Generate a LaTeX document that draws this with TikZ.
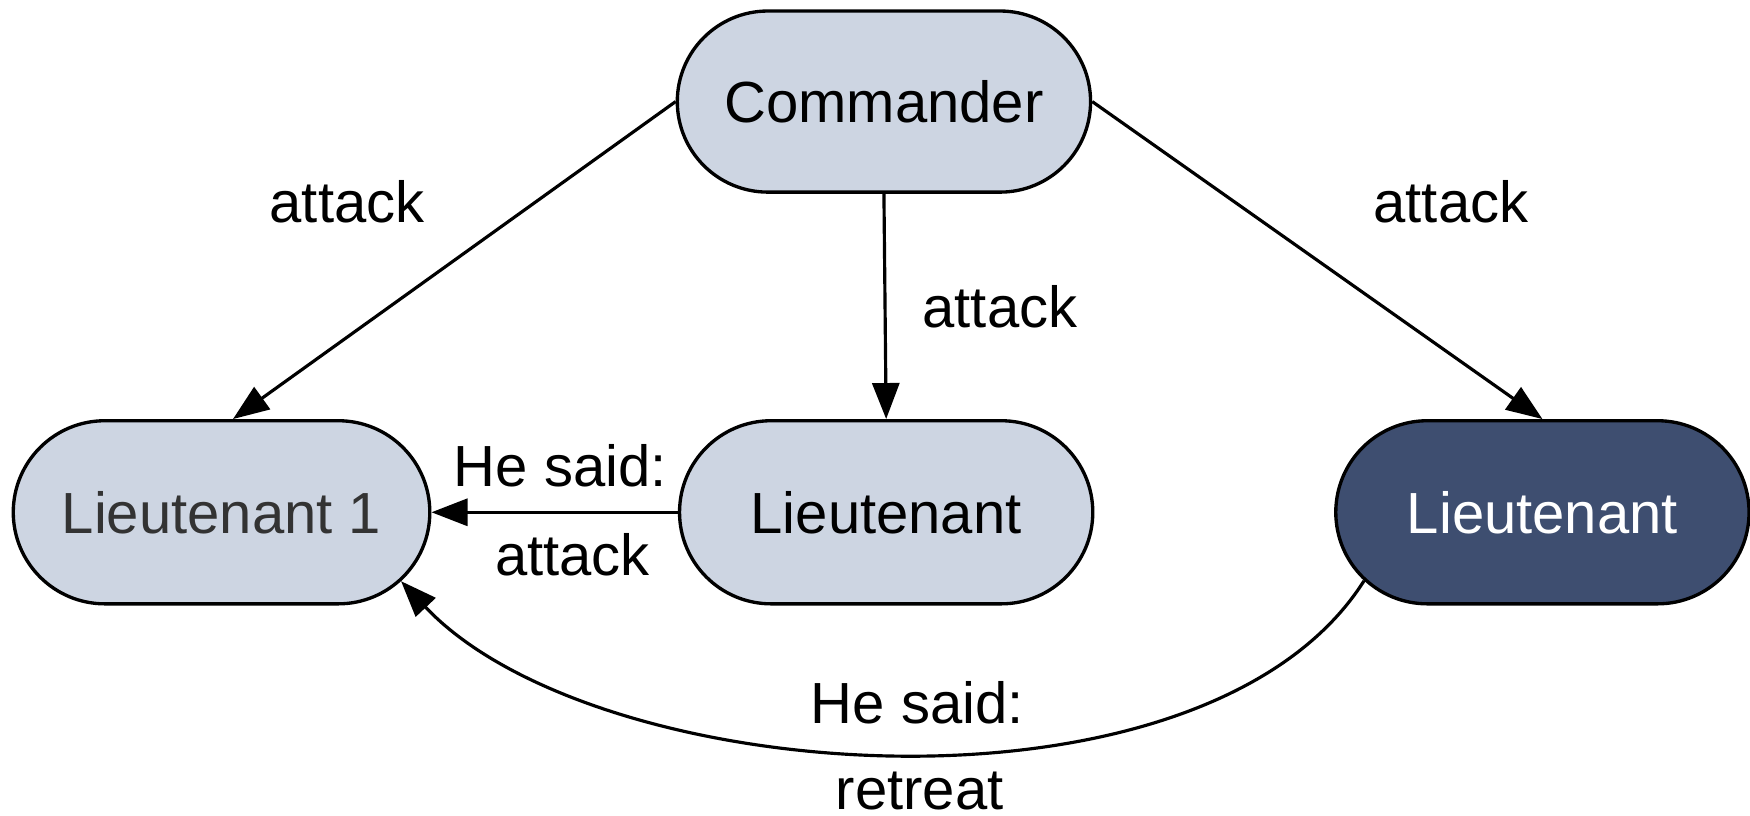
\documentclass[tikz,border=0pt]{standalone}
\usepackage{fontspec}
\setmainfont{Liberation Sans}
\usetikzlibrary{shapes.misc,arrows.meta}
\definecolor{lightfill}{HTML}{CDD5E2}
\definecolor{darkfill}{HTML}{3E4E70}
\definecolor{graytext}{HTML}{333333}
\begin{document}
\begin{tikzpicture}[x=0.011161cm,y=-0.011161cm,
  every node/.style={font=\fontsize{16.5}{20}\selectfont},
  box/.style={rounded rectangle, draw=black, line width=0.95pt, fill=lightfill,
    minimum width=4.13cm, minimum height=1.83cm, inner sep=0pt},
  conn/.style={line width=0.9pt, -{Triangle[length=3.6mm,width=2.7mm]}},
  lab/.style={anchor=base, inner sep=0pt}]
\useasboundingbox (0,0) rectangle (1568,731.1);

\node[box, minimum height=1.81cm] (C) at (792,91) {Commander};
\node[box, minimum width=4.163cm, text=graytext] (L1) at (198.5,459) {Lieutenant 1};
\node[box] (M) at (794,459) {Lieutenant};
\node[box, fill=darkfill, text=white] (R) at (1382,459) {Lieutenant};

\draw[conn] (C.west) -- (L1.83);
\draw[conn] (C.south) -- (M.north);
\draw[conn] (C.east) -- (R.north);
\draw[conn] (M.west) -- (L1.east);
\draw[conn] (R.201) .. controls (1080,745) and (535,707) .. (L1.-21);

\node[lab] (t1) at (311,199) {attack};
\node[lab] (t2) at (896,293) {attack};
\node[lab] (t3) at (1300,199) {attack};
\node[lab] (t4) at (502,436) {He said:};
\node[lab] (t5) at (513,516) {attack};
\node[lab] (t6) at (822,648) {He said:};
\node[lab] (t7) at (824,725) {retreat};
\end{tikzpicture}
\end{document}
